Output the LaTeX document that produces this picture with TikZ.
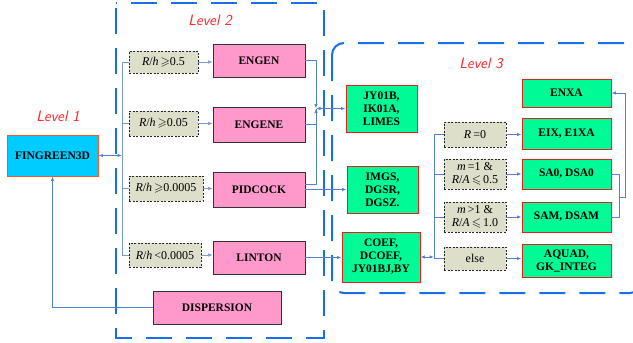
\documentclass[tikz,border=0pt]{standalone}
\usepackage{amssymb}
\usepackage{fontspec}
\setmainfont{Liberation Serif}
\usetikzlibrary{arrows.meta}

\definecolor{cyanbox}{RGB}{0,204,255}
\definecolor{cyanedge}{RGB}{240,90,40}
\definecolor{pinkfill}{RGB}{255,153,204}
\definecolor{greenfill}{RGB}{0,250,150}
\definecolor{greenedge}{RGB}{235,30,30}
\definecolor{condfill}{RGB}{222,223,202}
\definecolor{frameblue}{RGB}{25,110,235}
\definecolor{wire}{RGB}{85,130,205}
\definecolor{lvlred}{RGB}{250,35,35}

\tikzset{
  boxtext/.style={font=\fontsize{11.5}{13}\selectfont\bfseries, align=center, inner sep=0pt},
  topbox/.style={boxtext, draw=cyanedge, fill=cyanbox, line width=0.9pt},
  pinkbox/.style={boxtext, draw=black!80, fill=pinkfill, line width=0.9pt},
  greenbox/.style={boxtext, draw=greenedge, fill=greenfill, line width=0.9pt},
  condbox/.style={draw=black!85, fill=condfill, dashed, dash pattern=on 2pt off 1.5pt,
    line width=0.8pt, font=\fontsize{12}{13.5}\selectfont, align=center, inner sep=0pt},
  frame/.style={draw=frameblue, line width=2pt, dash pattern=on 26pt off 14pt},
  lvl/.style={text=lvlred, font=\fontsize{15}{17}\selectfont\sffamily\itshape},
  conn/.style={draw=wire, line width=0.9pt},
  thinconn/.style={draw=wire!80, line width=0.5pt},
  tip/.style={-{Latex[length=4.5pt,width=3.5pt]}},
  tips/.style={{Latex[length=4.5pt,width=3.5pt]}-{Latex[length=4.5pt,width=3.5pt]}},
}

\begin{document}
\begin{tikzpicture}[x=1pt,y=-1pt]
\useasboundingbox (0,0) rectangle (633,343);

% group frames
\draw[frame, dash phase=35pt] (116,3) rectangle (324,338);
\draw[frame, rounded corners=12pt] (332,43) rectangle (642,293);

% level captions
\node[lvl] (lv1) at (58,116) {Level 1};
\node[lvl] (lv2) at (210,20) {Level 2};
\node[lvl] (lv3) at (481,63) {Level 3};

% level 1
\node[topbox, minimum width=91pt, minimum height=41pt] (fin) at (52.5,155.5) {FINGREEN3D};

% level 2 conditions
\node[condbox, minimum width=69pt, minimum height=22pt] (c1) at (163.5,62) {\textit{R}/\textit{h}\,$\geqslant$0.5};
\node[condbox, minimum width=69pt, minimum height=25pt] (c2) at (163.5,123.5) {\textit{R}/\textit{h}\,$\geqslant$0.05};
\node[condbox, minimum width=74pt, minimum height=25pt] (c3) at (166,188.5) {\textit{R}/\textit{h}\,$\geqslant$0.0005};
\node[condbox, minimum width=72pt, minimum height=24pt] (c4) at (165,255) {\textit{R}/\textit{h}\,<0.0005};

% level 2 routines
\node[pinkbox, minimum width=92pt, minimum height=33pt] (engen) at (259,60.5) {ENGEN};
\node[pinkbox, minimum width=92pt, minimum height=35pt] (engene) at (259,124.5) {ENGENE};
\node[pinkbox, minimum width=92pt, minimum height=35pt] (pid) at (259,189.5) {PIDCOCK};
\node[pinkbox, minimum width=92pt, minimum height=33pt] (lint) at (259,257.5) {LINTON};
\node[pinkbox, minimum width=128pt, minimum height=33pt] (disp) at (217,307.5) {DISPERSION};

% level 3 routines
\node[greenbox, minimum width=71pt, minimum height=47pt] (jy) at (381.5,108.5) {JY01B,\\IK01A,\\LIMES};
\node[greenbox, minimum width=71pt, minimum height=47pt] (imgs) at (382.5,189.5) {IMGS,\\DGSR,\\DGSZ.};
\node[greenbox, minimum width=78pt, minimum height=50pt] (coef) at (381,257) {COEF,\\DCOEF,\\JY01BJ,BY};
\node[greenbox, minimum width=89pt, minimum height=28pt] (enxa) at (566.5,93) {ENXA};
\node[greenbox, minimum width=89pt, minimum height=31pt] (eix) at (566.5,133.5) {EIX, E1XA};
\node[greenbox, minimum width=89pt, minimum height=30pt] (sa0) at (566.5,174) {SA0, DSA0};
\node[greenbox, minimum width=89pt, minimum height=30pt] (sam) at (566.5,217) {SAM, DSAM};
\node[greenbox, minimum width=89pt, minimum height=33pt] (aquad) at (566.5,260.5) {AQUAD,\\GK\_INTEG};

% level 3 conditions
\node[condbox, minimum width=62pt, minimum height=25pt] (r0) at (475,134.5) {\textit{R}\,=0};
\node[condbox, minimum width=62pt, minimum height=30pt] (m1) at (475,174) {\textit{m}\,=1 \&\\\textit{R}/\textit{A}\,$\leqslant$\,0.5};
\node[condbox, minimum width=62pt, minimum height=30pt] (mg) at (475,217) {\textit{m}\,>1 \&\\\textit{R}/\textit{A}\,$\leqslant$\,1.0};
\node[condbox, minimum width=62pt, minimum height=23pt] (els) at (475,258.5) {else};

% level 1 <-> level 2 dispatch
\coordinate (bA) at (122,62);
\coordinate (bB) at (122,255);
\draw[thinconn] (bA) -- (bB);
\draw[conn, tips] (fin.east) -- (fin.east -| bA);
\foreach \c in {c1,c2,c3,c4} \draw[thinconn] (\c.west -| bA) -- (\c.west);
\draw[thinconn, tip] (c1.east) -- (c1.east -| engen.west);
\draw[thinconn, tip] (c2.east) -- (c2.east -| engene.west);
\draw[thinconn, tip] (c3.east) -- (c3.east -| pid.west);
\draw[thinconn, tip] (c4.east) -- (c4.east -| lint.west);

% level 2 -> level 3
\coordinate (J) at (316,108.5);
\draw[conn, tip] (engen.east) -| (J);
\draw[conn] (engene.east) -| (J);
\draw[conn, tip] ([yshift=5pt]pid.east) -| (J);
\draw[conn, tips] (J) -- (jy.west);
\draw[conn, tip] (pid.east) -- (pid.east -| imgs.west);
\draw[conn, tip] (lint.east) -- (lint.east -| coef.west);
\draw[conn, tip] (disp.west) -| (fin.south);

% level 3 dispatch
\coordinate (bC) at (434,134.5);
\coordinate (bD) at (434,258.5);
\draw[conn] (bC) -- (bD);
\draw[conn, tips] (coef.east) -- (coef.east -| bC);
\foreach \c in {r0,m1,mg,els} \draw[conn] (\c.west -| bC) -- (\c.west);
\draw[conn, tip] (r0.east) -- (r0.east -| eix.west);
\draw[conn, tip] (m1.east) -- (m1.east -| sa0.west);
\draw[conn, tip] (mg.east) -- (mg.east -| sam.west);
\draw[conn, tip] (els.east) -- (els.east -| aquad.west);

% SA0 / SAM feed ENXA
\coordinate (K) at (619,197);
\coordinate (L) at (625,197);
\draw[conn] (sa0.east) -| (K);
\draw[conn] (sam.east) -| (K);
\draw[conn, tip] (K) -- (L) |- (enxa.east);
\end{tikzpicture}
\end{document}
